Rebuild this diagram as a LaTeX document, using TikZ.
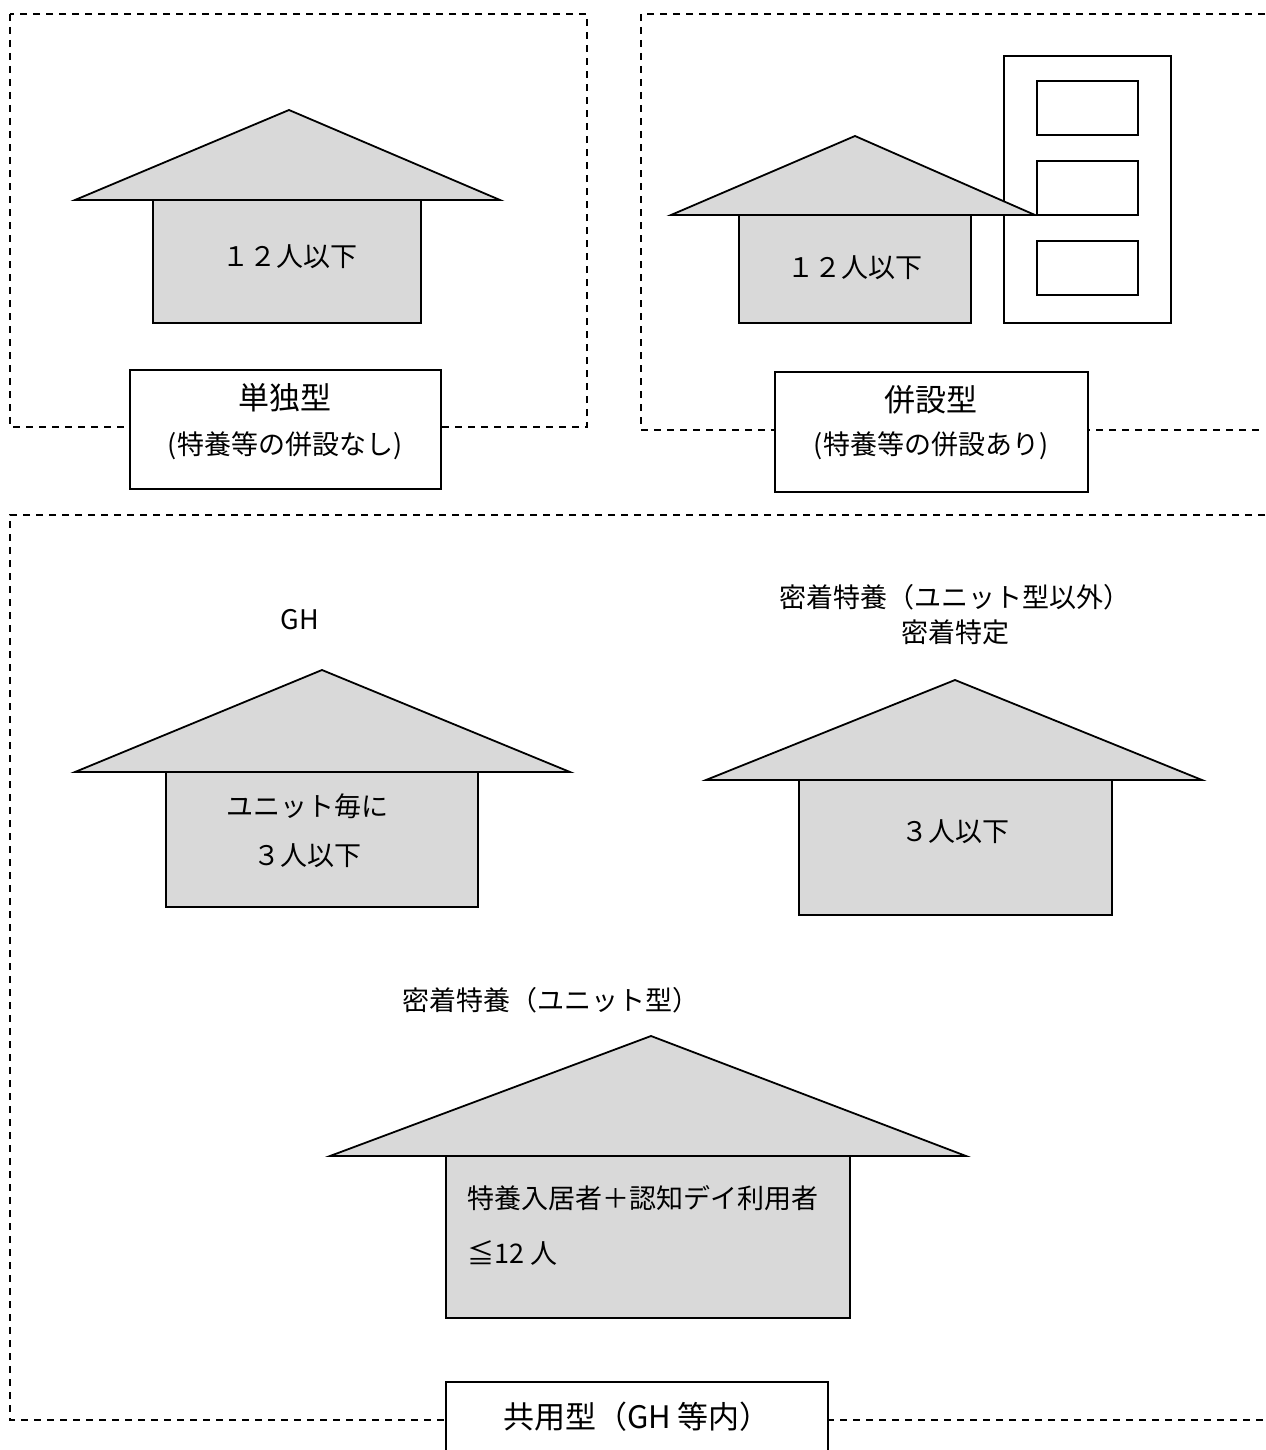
\documentclass[tikz,border=0pt]{standalone}
\usepackage{fontspec}
\setmainfont{Noto Sans CJK JP}
\usetikzlibrary{positioning}
\definecolor{housegray}{rgb}{0.85,0.85,0.85}

\begin{document}
\begin{tikzpicture}[x=0.5pt, y=-0.5pt,
  area/.style={dash pattern=on 3.5pt off 3pt, line width=.9pt},
  part/.style={draw, fill=housegray, line width=.9pt},
  plain/.style={draw, fill=white, line width=.9pt},
  txt/.style={font=\fontsize{13.5}{16}\selectfont, inner sep=0pt},
  title/.style={font=\fontsize{15.5}{18}\selectfont, inner sep=0pt}]

\newcommand*{\drawhouse}[8]{%
  \path[part] (#6,#5) rectangle (#7,#8);
  \path[part] (#3,#5) -- (#1,#2) -- (#4,#5) -- cycle;}

\useasboundingbox (0,0) rectangle (1265,1450);

% AREAS

\draw[area] (10,14) rectangle (587,427);
\draw[area] (1265,14) -- (641,14) -- (641,430) -- (1265,430);
\draw[area] (1265,515) -- (10,515) -- (10,1420) -- (1265,1420);

% SINGLE

\drawhouse{289}{110}{75}{500}{200}{153}{421}{323}
\node[txt] (single) at (290,257) {１２人以下};

\path[plain] (130,370) rectangle (441,489);
\node[title] (singletitle) at (285,398) {単独型};
\node[txt] (singlesub) at (285,446) {(特養等の併設なし)};

% ATTACHED

\path[plain] (1004,56) rectangle (1171,323);
\path[plain] (1037,81) rectangle (1138,135);
\path[plain] (1037,161) rectangle (1138,215);
\path[plain] (1037,241) rectangle (1138,295);
\drawhouse{855}{136}{671}{1035}{215}{739}{971}{323}
\node[txt] (attached) at (855,268) {１２人以下};

\path[plain] (775,372) rectangle (1088,492);
\node[title] (attachedtitle) at (931,400) {併設型};
\node[txt] (attachedsub) at (931,446) {(特養等の併設あり)};

% SHARED

\node[txt] (ghtitle) at (300,620) {GH};
\drawhouse{322}{670}{75}{570}{772}{166}{478}{907}
\node[txt] (gh) at (307,806) {ユニット毎に};
\node[txt, below=25pt of gh.center, anchor=center] (ghb) {３人以下};

\node[txt] (otitle) at (955,597) {密着特養（ユニット型以外）};
\node[txt, below=17.5pt of otitle.center, anchor=center] (otitleb) {密着特定};
\drawhouse{955}{680}{706}{1202}{780}{799}{1112}{915}
\node[txt] (other) at (955,832) {３人以下};

\node[txt] (utitle) at (551,1000) {密着特養（ユニット型）};
\drawhouse{651}{1036}{330}{966}{1156}{446}{850}{1318}
\node[txt, anchor=west] (unit) at (467,1198) {特養入居者＋認知デイ利用者};
\node[txt, anchor=west] (unitb) at (467,1253) {≦12 人};

\draw[line width=.9pt, fill=white] (446,1460) -- (446,1382) -- (828,1382) -- (828,1460);
\node[title] (sharedtitle) at (637,1417) {共用型（GH 等内）};

\end{tikzpicture}
\end{document}
